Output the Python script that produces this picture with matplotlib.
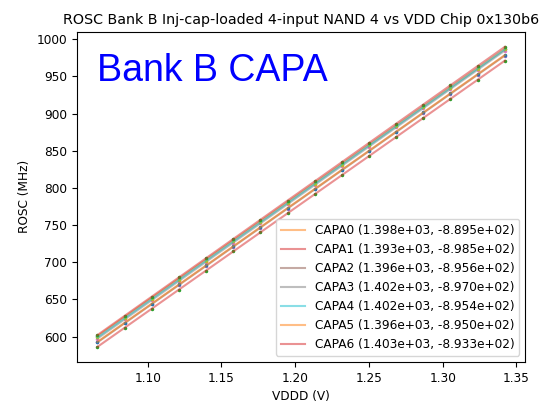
import matplotlib
matplotlib.use('Agg')
import matplotlib.pyplot as plt
import numpy as np

# VDDD sweep (V)
vddd = np.array([1.0658, 1.0842, 1.1026, 1.1211, 1.1395, 1.1579, 1.1763, 1.1948,
                 1.2132, 1.2316, 1.2500, 1.2685, 1.2869, 1.3053, 1.3237, 1.3422])

# measured ROSC frequency (MHz) per CAPA setting
capa0 = [600.5, 626.3, 652.0, 677.8, 703.5, 729.3, 755.1, 780.8,
         806.6, 832.3, 858.1, 883.9, 909.6, 935.4, 961.1, 986.9]
capa1 = [586.2, 611.9, 637.5, 663.2, 688.9, 714.6, 740.2, 765.9,
         791.6, 817.2, 842.9, 868.6, 894.3, 919.9, 945.6, 971.3]
capa2 = [592.3, 618.0, 643.7, 669.5, 695.2, 720.9, 746.6, 772.3,
         798.1, 823.8, 849.5, 875.2, 900.9, 926.7, 952.4, 978.1]
capa3 = [597.3, 623.1, 648.9, 674.8, 700.6, 726.5, 752.3, 778.1,
         803.9, 829.8, 855.6, 881.4, 907.3, 933.1, 958.9, 984.8]
capa4 = [598.9, 624.7, 650.5, 676.4, 702.2, 728.1, 753.9, 779.7,
         805.5, 831.4, 857.2, 883.0, 908.9, 934.7, 960.5, 986.4]
capa5 = [592.9, 618.6, 644.3, 670.1, 695.8, 721.5, 747.2, 772.9,
         798.7, 824.4, 850.1, 875.8, 901.5, 927.3, 953.0, 978.7]
capa6 = [602.0, 627.9, 653.7, 679.6, 705.4, 731.3, 757.1, 783.0,
         808.8, 834.7, 860.5, 886.4, 912.2, 938.1, 963.9, 989.8]

names = ['CAPA0', 'CAPA1', 'CAPA2', 'CAPA3', 'CAPA4', 'CAPA5', 'CAPA6']
series = [capa0, capa1, capa2, capa3, capa4, capa5, capa6]

# linear fit (slope, intercept) shown in legend
slopes = [1.398e3, 1.393e3, 1.396e3, 1.402e3, 1.402e3, 1.396e3, 1.403e3]
intercepts = [-8.895e2, -8.985e2, -8.956e2, -8.970e2, -8.954e2, -8.950e2, -8.933e2]

fig = plt.figure(figsize=(5.54, 4.03), dpi=100)
ax = fig.add_axes([0.139, 0.102, 0.809, 0.819])

for i, (name, y) in enumerate(zip(names, series)):
    ax.plot(vddd, y, '.', color='C%d' % ((2 * i) % 10), markersize=3)
    fit = np.polyval([slopes[i], intercepts[i]], vddd)
    ax.plot(vddd, fit, color='C%d' % ((2 * i + 1) % 10), alpha=0.5,
            label='%s (%.3e, %.3e)' % (name, slopes[i], intercepts[i]))

ax.text(0.045, 0.88, 'Bank B CAPA', transform=ax.transAxes, color='blue',
        fontsize=27, family='Liberation Sans', va='center', ha='left')

ax.set_title('ROSC Bank B Inj-cap-loaded 4-input NAND 4 vs VDD Chip 0x130b6', fontsize=10.3)
ax.set_xlabel('VDDD (V)', fontsize=8.7)
ax.set_ylabel('ROSC (MHz)', fontsize=8.7)
ax.tick_params(labelsize=8.7)
ax.legend(loc='lower right', fontsize=8.7)

fig.savefig('out.png', dpi=100)
